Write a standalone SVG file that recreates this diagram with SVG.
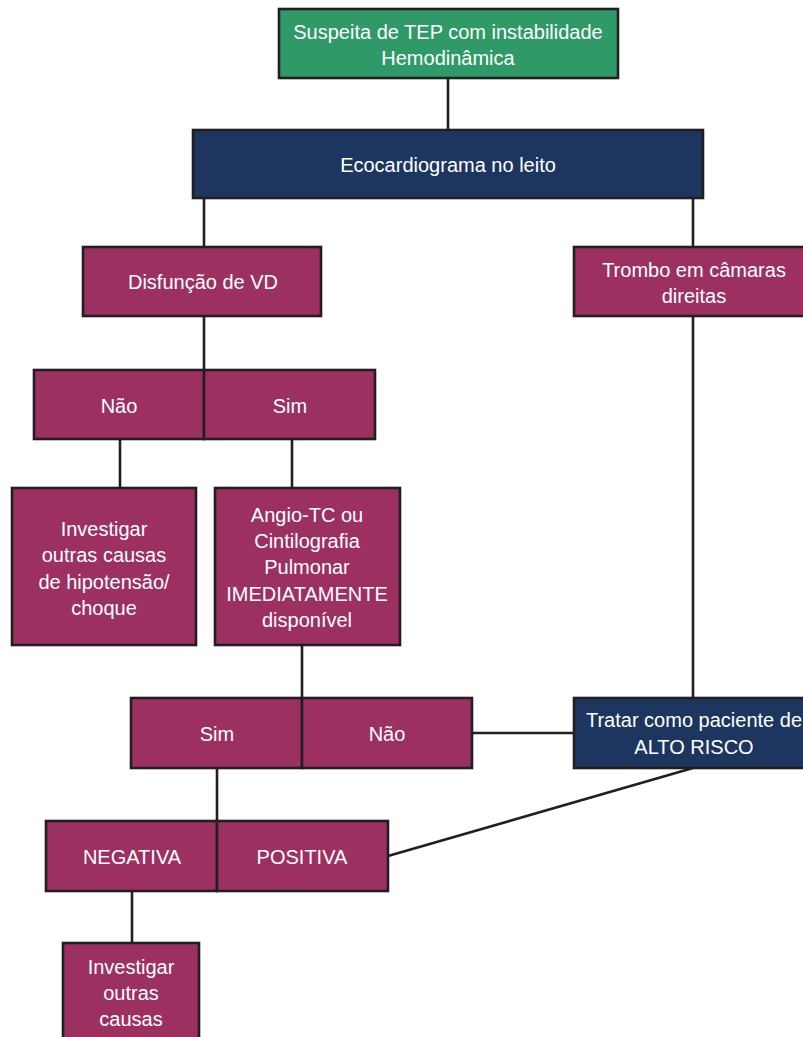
<svg xmlns="http://www.w3.org/2000/svg" width="803" height="1037" viewBox="0 0 803 1037">
<style>
.box{stroke:#231f20;stroke-width:2.6}
.g{fill:#2f9a67}
.n{fill:#1d3660}
.m{fill:#9b3061}
.t{font-family:"Liberation Sans",Arial,sans-serif;font-size:20px;fill:#ffffff;text-anchor:middle}
.c{stroke:#231f20;stroke-width:2.6;fill:none}
</style>
<rect width="803" height="1037" fill="#ffffff"/>
<g id="connectors">
<line class="c" x1="448" y1="78" x2="448" y2="130"/>
<line class="c" x1="204" y1="198" x2="204" y2="247"/>
<line class="c" x1="693" y1="198" x2="693" y2="247"/>
<line class="c" x1="204" y1="316" x2="204" y2="370"/>
<line class="c" x1="693" y1="316" x2="693" y2="698"/>
<line class="c" x1="120" y1="439" x2="120" y2="488"/>
<line class="c" x1="292" y1="439" x2="292" y2="488"/>
<line class="c" x1="302" y1="645" x2="302" y2="698"/>
<line class="c" x1="472" y1="733" x2="574" y2="733"/>
<line class="c" x1="217" y1="768" x2="217" y2="821"/>
<line class="c" x1="693" y1="768" x2="388" y2="856"/>
<line class="c" x1="132" y1="891" x2="132" y2="943"/>
</g>
<g id="n-suspeita">
<rect class="box g" x="279" y="9" width="339" height="69"/>
<text class="t" x="448" y="39">Suspeita de TEP com instabilidade</text>
<text class="t" x="448" y="65">Hemodinâmica</text>
</g>
<g id="n-eco">
<rect class="box n" x="193" y="130" width="510" height="68"/>
<text class="t" x="448" y="172">Ecocardiograma no leito</text>
</g>
<g id="n-disfuncao">
<rect class="box m" x="83" y="247" width="238" height="69"/>
<text class="t" x="203" y="289">Disfunção de VD</text>
</g>
<g id="n-trombo">
<rect class="box m" x="574" y="247" width="242" height="69"/>
<text class="t" x="694" y="277">Trombo em câmaras</text>
<text class="t" x="694" y="303">direitas</text>
</g>
<g id="n-nao1">
<rect class="box m" x="34" y="370" width="170" height="69"/>
<text class="t" x="119" y="413">Não</text>
</g>
<g id="n-sim1">
<rect class="box m" x="204" y="370" width="171" height="69"/>
<text class="t" x="290" y="413">Sim</text>
</g>
<g id="n-investigar1">
<rect class="box m" x="12" y="488" width="184" height="157"/>
<text class="t" x="104" y="536">Investigar</text>
<text class="t" x="104" y="562">outras causas</text>
<text class="t" x="104" y="589">de hipotensão/</text>
<text class="t" x="104" y="615">choque</text>
</g>
<g id="n-angio">
<rect class="box m" x="215" y="488" width="185" height="157"/>
<text class="t" x="307" y="522">Angio-TC ou</text>
<text class="t" x="307" y="548">Cintilografia</text>
<text class="t" x="307" y="574">Pulmonar</text>
<text class="t" x="307" y="601">IMEDIATAMENTE</text>
<text class="t" x="307" y="627">disponível</text>
</g>
<g id="n-sim2">
<rect class="box m" x="131" y="698" width="171" height="70"/>
<text class="t" x="217" y="741">Sim</text>
</g>
<g id="n-nao2">
<rect class="box m" x="302" y="698" width="170" height="70"/>
<text class="t" x="387" y="741">Não</text>
</g>
<g id="n-tratar">
<rect class="box n" x="574" y="698" width="242" height="70"/>
<text class="t" x="694" y="727">Tratar como paciente de</text>
<text class="t" x="694" y="754">ALTO RISCO</text>
</g>
<g id="n-negativa">
<rect class="box m" x="46" y="821" width="171" height="70"/>
<text class="t" x="132" y="864">NEGATIVA</text>
</g>
<g id="n-positiva">
<rect class="box m" x="217" y="821" width="171" height="70"/>
<text class="t" x="302" y="864">POSITIVA</text>
</g>
<g id="n-investigar2">
<rect class="box m" x="63" y="943" width="136" height="100"/>
<text class="t" x="131" y="974">Investigar</text>
<text class="t" x="131" y="1000">outras</text>
<text class="t" x="131" y="1026">causas</text>
</g>
</svg>
